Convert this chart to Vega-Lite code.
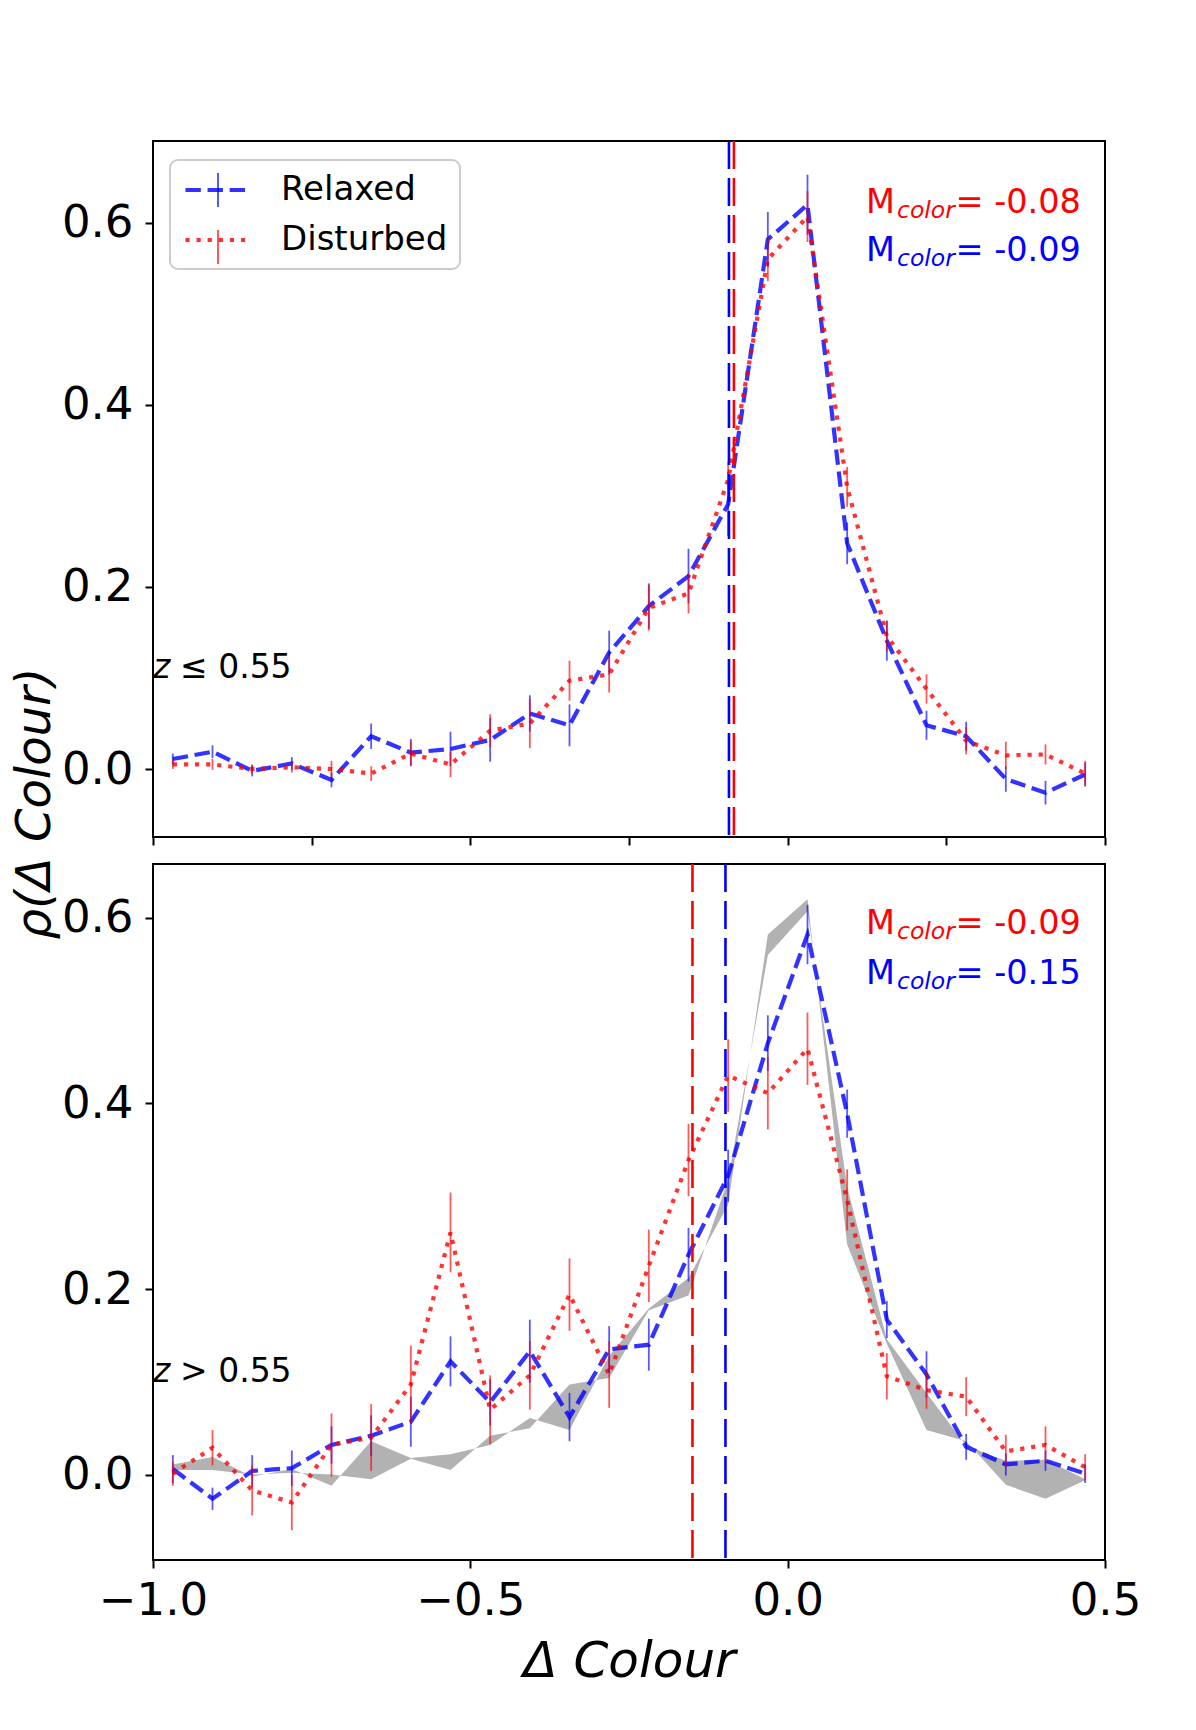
{
  "$schema": "https://vega.github.io/schema/vega-lite/v6.json",
  "autosize": {"type": "none"},
  "padding": {"left": 153, "top": 141, "right": 1043, "bottom": 1589},
  "background": "white",
  "bounds": "flush",
  "spacing": 27,
  "config": {
    "font": "DejaVu Sans",
    "view": {"stroke": "black", "strokeWidth": 2},
    "axis": {
      "grid": false, "domain": false, "tickColor": "black", "tickWidth": 2, "tickSize": 8,
      "labelFont": "DejaVu Sans", "labelFontSize": 45, "labelColor": "black",
      "labelFlush": false, "labelOverlap": false, "labelBound": false,
      "titleColor": "black", "titleFont": "DejaVu Sans", "titleFontSize": 50,
      "titleFontWeight": "normal", "titleFontStyle": "italic"
    }
  },
  "datasets": {
    "series": [
      {"panel":"low","g":"Relaxed","x":-0.96875,"y":0.011,"lo":0.005,"hi":0.017},
      {"panel":"low","g":"Relaxed","x":-0.90625,"y":0.019,"lo":0.012,"hi":0.026},
      {"panel":"low","g":"Relaxed","x":-0.84375,"y":-0.002,"lo":-0.008,"hi":0.004},
      {"panel":"low","g":"Relaxed","x":-0.78125,"y":0.006,"lo":-0.001,"hi":0.013},
      {"panel":"low","g":"Relaxed","x":-0.71875,"y":-0.012,"lo":-0.020,"hi":-0.004},
      {"panel":"low","g":"Relaxed","x":-0.65625,"y":0.036,"lo":0.022,"hi":0.050},
      {"panel":"low","g":"Relaxed","x":-0.59375,"y":0.018,"lo":0.003,"hi":0.033},
      {"panel":"low","g":"Relaxed","x":-0.53125,"y":0.022,"lo":0.003,"hi":0.041},
      {"panel":"low","g":"Relaxed","x":-0.46875,"y":0.032,"lo":0.008,"hi":0.056},
      {"panel":"low","g":"Relaxed","x":-0.40625,"y":0.061,"lo":0.041,"hi":0.081},
      {"panel":"low","g":"Relaxed","x":-0.34375,"y":0.048,"lo":0.025,"hi":0.071},
      {"panel":"low","g":"Relaxed","x":-0.28125,"y":0.128,"lo":0.104,"hi":0.152},
      {"panel":"low","g":"Relaxed","x":-0.21875,"y":0.179,"lo":0.154,"hi":0.204},
      {"panel":"low","g":"Relaxed","x":-0.15625,"y":0.212,"lo":0.182,"hi":0.242},
      {"panel":"low","g":"Relaxed","x":-0.09375,"y":0.291,"lo":0.256,"hi":0.326},
      {"panel":"low","g":"Relaxed","x":-0.03125,"y":0.582,"lo":0.552,"hi":0.612},
      {"panel":"low","g":"Relaxed","x":0.03125,"y":0.620,"lo":0.587,"hi":0.653},
      {"panel":"low","g":"Relaxed","x":0.09375,"y":0.248,"lo":0.225,"hi":0.271},
      {"panel":"low","g":"Relaxed","x":0.15625,"y":0.141,"lo":0.119,"hi":0.163},
      {"panel":"low","g":"Relaxed","x":0.21875,"y":0.048,"lo":0.032,"hi":0.064},
      {"panel":"low","g":"Relaxed","x":0.28125,"y":0.036,"lo":0.020,"hi":0.052},
      {"panel":"low","g":"Relaxed","x":0.34375,"y":-0.011,"lo":-0.025,"hi":0.003},
      {"panel":"low","g":"Relaxed","x":0.40625,"y":-0.026,"lo":-0.039,"hi":-0.013},
      {"panel":"low","g":"Relaxed","x":0.46875,"y":-0.006,"lo":-0.019,"hi":0.007},
      {"panel":"low","g":"Disturbed","x":-0.96875,"y":0.005,"lo":0.000,"hi":0.010},
      {"panel":"low","g":"Disturbed","x":-0.90625,"y":0.005,"lo":-0.001,"hi":0.011},
      {"panel":"low","g":"Disturbed","x":-0.84375,"y":0.000,"lo":-0.005,"hi":0.005},
      {"panel":"low","g":"Disturbed","x":-0.78125,"y":0.002,"lo":-0.004,"hi":0.008},
      {"panel":"low","g":"Disturbed","x":-0.71875,"y":0.000,"lo":-0.009,"hi":0.009},
      {"panel":"low","g":"Disturbed","x":-0.65625,"y":-0.005,"lo":-0.013,"hi":0.003},
      {"panel":"low","g":"Disturbed","x":-0.59375,"y":0.017,"lo":0.004,"hi":0.030},
      {"panel":"low","g":"Disturbed","x":-0.53125,"y":0.005,"lo":-0.009,"hi":0.019},
      {"panel":"low","g":"Disturbed","x":-0.46875,"y":0.042,"lo":0.024,"hi":0.060},
      {"panel":"low","g":"Disturbed","x":-0.40625,"y":0.050,"lo":0.023,"hi":0.077},
      {"panel":"low","g":"Disturbed","x":-0.34375,"y":0.097,"lo":0.075,"hi":0.119},
      {"panel":"low","g":"Disturbed","x":-0.28125,"y":0.104,"lo":0.084,"hi":0.124},
      {"panel":"low","g":"Disturbed","x":-0.21875,"y":0.177,"lo":0.152,"hi":0.202},
      {"panel":"low","g":"Disturbed","x":-0.15625,"y":0.193,"lo":0.171,"hi":0.215},
      {"panel":"low","g":"Disturbed","x":-0.09375,"y":0.318,"lo":0.298,"hi":0.338},
      {"panel":"low","g":"Disturbed","x":-0.03125,"y":0.560,"lo":0.536,"hi":0.584},
      {"panel":"low","g":"Disturbed","x":0.03125,"y":0.607,"lo":0.579,"hi":0.635},
      {"panel":"low","g":"Disturbed","x":0.09375,"y":0.310,"lo":0.288,"hi":0.332},
      {"panel":"low","g":"Disturbed","x":0.15625,"y":0.146,"lo":0.129,"hi":0.163},
      {"panel":"low","g":"Disturbed","x":0.21875,"y":0.088,"lo":0.072,"hi":0.104},
      {"panel":"low","g":"Disturbed","x":0.28125,"y":0.031,"lo":0.016,"hi":0.046},
      {"panel":"low","g":"Disturbed","x":0.34375,"y":0.015,"lo":0.000,"hi":0.030},
      {"panel":"low","g":"Disturbed","x":0.40625,"y":0.016,"lo":0.005,"hi":0.027},
      {"panel":"low","g":"Disturbed","x":0.46875,"y":-0.005,"lo":-0.019,"hi":0.009},
      {"panel":"high","g":"Relaxed","x":-0.96875,"y":0.006,"lo":-0.009,"hi":0.021},
      {"panel":"high","g":"Relaxed","x":-0.90625,"y":-0.026,"lo":-0.038,"hi":-0.014},
      {"panel":"high","g":"Relaxed","x":-0.84375,"y":0.004,"lo":-0.013,"hi":0.021},
      {"panel":"high","g":"Relaxed","x":-0.78125,"y":0.007,"lo":-0.012,"hi":0.026},
      {"panel":"high","g":"Relaxed","x":-0.71875,"y":0.032,"lo":0.012,"hi":0.052},
      {"panel":"high","g":"Relaxed","x":-0.65625,"y":0.042,"lo":0.020,"hi":0.064},
      {"panel":"high","g":"Relaxed","x":-0.59375,"y":0.057,"lo":0.030,"hi":0.084},
      {"panel":"high","g":"Relaxed","x":-0.53125,"y":0.122,"lo":0.095,"hi":0.149},
      {"panel":"high","g":"Relaxed","x":-0.46875,"y":0.078,"lo":0.053,"hi":0.103},
      {"panel":"high","g":"Relaxed","x":-0.40625,"y":0.133,"lo":0.099,"hi":0.167},
      {"panel":"high","g":"Relaxed","x":-0.34375,"y":0.062,"lo":0.036,"hi":0.088},
      {"panel":"high","g":"Relaxed","x":-0.28125,"y":0.135,"lo":0.110,"hi":0.160},
      {"panel":"high","g":"Relaxed","x":-0.21875,"y":0.140,"lo":0.112,"hi":0.168},
      {"panel":"high","g":"Relaxed","x":-0.15625,"y":0.237,"lo":0.208,"hi":0.266},
      {"panel":"high","g":"Relaxed","x":-0.09375,"y":0.322,"lo":0.294,"hi":0.350},
      {"panel":"high","g":"Relaxed","x":-0.03125,"y":0.465,"lo":0.435,"hi":0.495},
      {"panel":"high","g":"Relaxed","x":0.03125,"y":0.582,"lo":0.550,"hi":0.614},
      {"panel":"high","g":"Relaxed","x":0.09375,"y":0.389,"lo":0.363,"hi":0.415},
      {"panel":"high","g":"Relaxed","x":0.15625,"y":0.167,"lo":0.147,"hi":0.187},
      {"panel":"high","g":"Relaxed","x":0.21875,"y":0.108,"lo":0.083,"hi":0.133},
      {"panel":"high","g":"Relaxed","x":0.28125,"y":0.030,"lo":0.016,"hi":0.044},
      {"panel":"high","g":"Relaxed","x":0.34375,"y":0.011,"lo":-0.001,"hi":0.023},
      {"panel":"high","g":"Relaxed","x":0.40625,"y":0.015,"lo":0.004,"hi":0.026},
      {"panel":"high","g":"Relaxed","x":0.46875,"y":0.001,"lo":-0.009,"hi":0.011},
      {"panel":"high","g":"Disturbed","x":-0.96875,"y":0.001,"lo":-0.012,"hi":0.014},
      {"panel":"high","g":"Disturbed","x":-0.90625,"y":0.029,"lo":0.010,"hi":0.048},
      {"panel":"high","g":"Disturbed","x":-0.84375,"y":-0.017,"lo":-0.044,"hi":0.010},
      {"panel":"high","g":"Disturbed","x":-0.78125,"y":-0.030,"lo":-0.060,"hi":0.000},
      {"panel":"high","g":"Disturbed","x":-0.71875,"y":0.032,"lo":-0.002,"hi":0.066},
      {"panel":"high","g":"Disturbed","x":-0.65625,"y":0.040,"lo":0.004,"hi":0.076},
      {"panel":"high","g":"Disturbed","x":-0.59375,"y":0.097,"lo":0.055,"hi":0.139},
      {"panel":"high","g":"Disturbed","x":-0.53125,"y":0.261,"lo":0.218,"hi":0.304},
      {"panel":"high","g":"Disturbed","x":-0.46875,"y":0.070,"lo":0.033,"hi":0.107},
      {"panel":"high","g":"Disturbed","x":-0.40625,"y":0.107,"lo":0.070,"hi":0.144},
      {"panel":"high","g":"Disturbed","x":-0.34375,"y":0.194,"lo":0.155,"hi":0.233},
      {"panel":"high","g":"Disturbed","x":-0.28125,"y":0.108,"lo":0.072,"hi":0.144},
      {"panel":"high","g":"Disturbed","x":-0.21875,"y":0.225,"lo":0.186,"hi":0.264},
      {"panel":"high","g":"Disturbed","x":-0.15625,"y":0.339,"lo":0.300,"hi":0.378},
      {"panel":"high","g":"Disturbed","x":-0.09375,"y":0.430,"lo":0.391,"hi":0.469},
      {"panel":"high","g":"Disturbed","x":-0.03125,"y":0.411,"lo":0.372,"hi":0.450},
      {"panel":"high","g":"Disturbed","x":0.03125,"y":0.459,"lo":0.420,"hi":0.498},
      {"panel":"high","g":"Disturbed","x":0.09375,"y":0.296,"lo":0.263,"hi":0.329},
      {"panel":"high","g":"Disturbed","x":0.15625,"y":0.106,"lo":0.081,"hi":0.131},
      {"panel":"high","g":"Disturbed","x":0.21875,"y":0.091,"lo":0.071,"hi":0.111},
      {"panel":"high","g":"Disturbed","x":0.28125,"y":0.084,"lo":0.063,"hi":0.105},
      {"panel":"high","g":"Disturbed","x":0.34375,"y":0.025,"lo":0.007,"hi":0.043},
      {"panel":"high","g":"Disturbed","x":0.40625,"y":0.032,"lo":0.012,"hi":0.052},
      {"panel":"high","g":"Disturbed","x":0.46875,"y":0.008,"lo":-0.006,"hi":0.022}
    ],
    "band": [
      {"x":-0.96875,"a":0.011,"b":0.005},
      {"x":-0.90625,"a":0.019,"b":0.005},
      {"x":-0.84375,"a":-0.002,"b":0.000},
      {"x":-0.78125,"a":0.006,"b":0.002},
      {"x":-0.71875,"a":-0.012,"b":0.000},
      {"x":-0.65625,"a":0.036,"b":-0.005},
      {"x":-0.59375,"a":0.018,"b":0.017},
      {"x":-0.53125,"a":0.022,"b":0.005},
      {"x":-0.46875,"a":0.032,"b":0.042},
      {"x":-0.40625,"a":0.061,"b":0.050},
      {"x":-0.34375,"a":0.048,"b":0.097},
      {"x":-0.28125,"a":0.128,"b":0.104},
      {"x":-0.21875,"a":0.179,"b":0.177},
      {"x":-0.15625,"a":0.212,"b":0.193},
      {"x":-0.09375,"a":0.291,"b":0.318},
      {"x":-0.03125,"a":0.582,"b":0.560},
      {"x":0.03125,"a":0.620,"b":0.607},
      {"x":0.09375,"a":0.248,"b":0.310},
      {"x":0.15625,"a":0.141,"b":0.146},
      {"x":0.21875,"a":0.048,"b":0.088},
      {"x":0.28125,"a":0.036,"b":0.031},
      {"x":0.34375,"a":-0.011,"b":0.015},
      {"x":0.40625,"a":-0.026,"b":0.016},
      {"x":0.46875,"a":-0.006,"b":-0.005}
    ],
    "stats": [
      {"panel":"low","g":"Relaxed","median":-0.0925,"label":"= -0.09"},
      {"panel":"low","g":"Disturbed","median":-0.0847,"label":"= -0.08"},
      {"panel":"high","g":"Relaxed","median":-0.098,"label":"= -0.15"},
      {"panel":"high","g":"Disturbed","median":-0.150,"label":"= -0.09"}
    ],
    "notes": [
      {"panel":"low","cond":"≤ 0.55"},
      {"panel":"high","cond":"> 0.55"}
    ]
  },
  "vconcat": [
    {
      "width": 952,
      "height": 696,
      "layer": [
        {
          "data": {"name": "series"},
          "transform": [{"filter": "datum.panel === 'low'"}],
          "mark": {"type": "line", "strokeWidth": 4.2, "opacity": 0.8, "strokeCap": "butt"},
          "encoding": {
            "x": {"field": "x", "type": "quantitative", "scale": {"domain": [-1, 0.5], "nice": false, "zero": false},
                  "axis": {"values": [-1, -0.75, -0.5, -0.25, 0, 0.25, 0.5], "labels": false, "title": null}},
            "y": {"field": "y", "type": "quantitative", "scale": {"domain": [-0.0747, 0.690], "nice": false, "zero": false},
                  "axis": {"values": [0, 0.2, 0.4, 0.6], "format": ".1f", "labelPadding": 12,
                           "title": "ρ(Δ  Colour)", "titleX": -104, "titleY": 662, "titleAngle": 270,
                           "titleFontSize": 48, "titleAlign": "center", "titleBaseline": "alphabetic"}},
            "color": {"field": "g", "type": "nominal", "scale": {"domain": ["Relaxed", "Disturbed"], "range": ["#0000ff", "#ff0000"]},
                      "legend": {"orient": "none", "legendX": 17, "legendY": 19, "title": null, "padding": 12, "rowPadding": 15,
                                 "symbolType": "M-2.1,0L1.9,0", "symbolSize": 961, "symbolStrokeWidth": 4.2, "symbolOffset": 18,
                                 "labelOffset": 45, "labelLimit": 400, "labelFont": "DejaVu Sans", "labelFontSize": 34, "labelColor": "black",
                                 "strokeColor": "#cccccc", "cornerRadius": 8, "symbolOpacity": 0.8,
                                 "encode": {"legend": {"update": {"strokeWidth": {"value": 2}}}}}},
            "strokeDash": {"field": "g", "type": "nominal", "scale": {"domain": ["Relaxed", "Disturbed"], "range": [[15.4, 6.7], [4.2, 6.9]]},
                      "legend": {"orient": "none", "legendX": 17, "legendY": 19, "title": null, "padding": 12, "rowPadding": 15,
                                 "symbolType": "M-2.1,0L1.9,0", "symbolSize": 961, "symbolStrokeWidth": 4.2, "symbolOffset": 18,
                                 "labelOffset": 45, "labelLimit": 400, "labelFont": "DejaVu Sans", "labelFontSize": 34, "labelColor": "black",
                                 "strokeColor": "#cccccc", "cornerRadius": 8, "symbolOpacity": 0.8}}
          }
        },
        {
          "data": {"name": "series"},
          "transform": [{"filter": "datum.panel === 'low'"}],
          "mark": {"type": "rule", "strokeWidth": 1.8, "opacity": 0.65},
          "encoding": {
            "x": {"field": "x", "type": "quantitative"},
            "y": {"field": "lo", "type": "quantitative"},
            "y2": {"field": "hi"},
            "stroke": {"field": "g", "type": "nominal", "sort": ["Relaxed", "Disturbed"], "scale": {"range": ["#0000ff", "#ff0000"]},
                       "legend": {"orient": "none", "legendX": 17, "legendY": 19, "title": null, "padding": 12, "rowPadding": 15,
                                  "symbolType": "M0,-1L0,1", "symbolSize": 1156, "symbolStrokeWidth": 2, "symbolOffset": 18,
                                  "symbolDash": [100, 0], "labelOffset": 45, "labelFontSize": 34, "labelExpr": "''", "symbolOpacity": 0.65}}
          }
        },
        {
          "data": {"name": "stats"},
          "transform": [{"filter": "datum.panel === 'low'"}],
          "mark": {"type": "rule", "strokeWidth": 2.6, "strokeDash": [28, 9]},
          "encoding": {
            "x": {"field": "median", "type": "quantitative"},
            "stroke": {"field": "g", "type": "nominal", "sort": ["Relaxed", "Disturbed"]}
          }
        },
        {
          "data": {"name": "notes"},
          "transform": [{"filter": "datum.panel === 'low'"}],
          "mark": {"type": "text", "align": "left", "baseline": "alphabetic", "fontSize": 33, "fontStyle": "italic", "color": "black"},
          "encoding": {"x": {"datum": -1.0, "type": "quantitative"}, "y": {"datum": 0.1, "type": "quantitative"}, "text": {"value": "z"}}
        },
        {
          "data": {"name": "notes"},
          "transform": [{"filter": "datum.panel === 'low'"}],
          "mark": {"type": "text", "align": "left", "baseline": "alphabetic", "fontSize": 33, "dx": 27, "color": "black"},
          "encoding": {"x": {"datum": -1.0, "type": "quantitative"}, "y": {"datum": 0.1, "type": "quantitative"}, "text": {"field": "cond"}}
        },
        {
          "data": {"name": "stats"},
          "transform": [{"filter": "datum.panel === 'low' && datum.g === 'Disturbed'"}],
          "mark": {"type": "text", "align": "right", "baseline": "alphabetic", "fontSize": 33.5, "color": "#ff0000"},
          "encoding": {"x": {"datum": 0.462, "type": "quantitative"}, "y": {"datum": 0.611, "type": "quantitative"}, "text": {"field": "label"}}
        },
        {
          "data": {"name": "stats"},
          "transform": [{"filter": "datum.panel === 'low' && datum.g === 'Disturbed'"}],
          "mark": {"type": "text", "align": "right", "baseline": "alphabetic", "fontSize": 23.5, "fontStyle": "italic", "dx": -126, "dy": 5, "color": "#ff0000"},
          "encoding": {"x": {"datum": 0.462, "type": "quantitative"}, "y": {"datum": 0.611, "type": "quantitative"}, "text": {"value": "color"}}
        },
        {
          "data": {"name": "stats"},
          "transform": [{"filter": "datum.panel === 'low' && datum.g === 'Disturbed'"}],
          "mark": {"type": "text", "align": "right", "baseline": "alphabetic", "fontSize": 33.5, "dx": -186, "color": "#ff0000"},
          "encoding": {"x": {"datum": 0.462, "type": "quantitative"}, "y": {"datum": 0.611, "type": "quantitative"}, "text": {"value": "M"}}
        },
        {
          "data": {"name": "stats"},
          "transform": [{"filter": "datum.panel === 'low' && datum.g === 'Relaxed'"}],
          "mark": {"type": "text", "align": "right", "baseline": "alphabetic", "fontSize": 33.5, "color": "#0000ff"},
          "encoding": {"x": {"datum": 0.462, "type": "quantitative"}, "y": {"datum": 0.558, "type": "quantitative"}, "text": {"field": "label"}}
        },
        {
          "data": {"name": "stats"},
          "transform": [{"filter": "datum.panel === 'low' && datum.g === 'Relaxed'"}],
          "mark": {"type": "text", "align": "right", "baseline": "alphabetic", "fontSize": 23.5, "fontStyle": "italic", "dx": -126, "dy": 5, "color": "#0000ff"},
          "encoding": {"x": {"datum": 0.462, "type": "quantitative"}, "y": {"datum": 0.558, "type": "quantitative"}, "text": {"value": "color"}}
        },
        {
          "data": {"name": "stats"},
          "transform": [{"filter": "datum.panel === 'low' && datum.g === 'Relaxed'"}],
          "mark": {"type": "text", "align": "right", "baseline": "alphabetic", "fontSize": 33.5, "dx": -186, "color": "#0000ff"},
          "encoding": {"x": {"datum": 0.462, "type": "quantitative"}, "y": {"datum": 0.558, "type": "quantitative"}, "text": {"value": "M"}}
        }
      ]
    },
    {
      "width": 952,
      "height": 696,
      "layer": [
        {
          "data": {"name": "band"},
          "mark": {"type": "area", "color": "#b2b2b2", "opacity": 1},
          "encoding": {
            "x": {"field": "x", "type": "quantitative", "scale": {"domain": [-1, 0.5], "nice": false, "zero": false},
                  "axis": {"values": [-1, -0.5, 0, 0.5], "format": ".1f", "labelBaseline": "alphabetic", "labelPadding": 46,
                           "title": "Δ  Colour", "titleY": 116, "titleBaseline": "alphabetic"}},
            "y": {"field": "a", "type": "quantitative", "scale": {"domain": [-0.092, 0.658], "nice": false, "zero": false},
                  "axis": {"values": [0, 0.2, 0.4, 0.6], "format": ".1f", "labelPadding": 12, "title": null}},
            "y2": {"field": "b"}
          }
        },
        {
          "data": {"name": "series"},
          "transform": [{"filter": "datum.panel === 'high'"}],
          "mark": {"type": "line", "strokeWidth": 4.2, "opacity": 0.8, "strokeCap": "butt"},
          "encoding": {
            "x": {"field": "x", "type": "quantitative"},
            "y": {"field": "y", "type": "quantitative"},
            "color": {"field": "g", "type": "nominal", "scale": {"domain": ["Relaxed", "Disturbed"], "range": ["#0000ff", "#ff0000"]}},
            "strokeDash": {"field": "g", "type": "nominal", "scale": {"domain": ["Relaxed", "Disturbed"], "range": [[15.4, 6.7], [4.2, 6.9]]}}
          }
        },
        {
          "data": {"name": "series"},
          "transform": [{"filter": "datum.panel === 'high'"}],
          "mark": {"type": "rule", "strokeWidth": 1.8, "opacity": 0.65},
          "encoding": {
            "x": {"field": "x", "type": "quantitative"},
            "y": {"field": "lo", "type": "quantitative"},
            "y2": {"field": "hi"},
            "stroke": {"field": "g", "type": "nominal", "sort": ["Relaxed", "Disturbed"]}
          }
        },
        {
          "data": {"name": "stats"},
          "transform": [{"filter": "datum.panel === 'high'"}],
          "mark": {"type": "rule", "strokeWidth": 2.6, "strokeDash": [28, 9]},
          "encoding": {
            "x": {"field": "median", "type": "quantitative"},
            "stroke": {"field": "g", "type": "nominal", "sort": ["Relaxed", "Disturbed"]}
          }
        },
        {
          "data": {"name": "notes"},
          "transform": [{"filter": "datum.panel === 'high'"}],
          "mark": {"type": "text", "align": "left", "baseline": "alphabetic", "fontSize": 33, "fontStyle": "italic", "color": "black"},
          "encoding": {"x": {"datum": -1.0, "type": "quantitative"}, "y": {"datum": 0.1, "type": "quantitative"}, "text": {"value": "z"}}
        },
        {
          "data": {"name": "notes"},
          "transform": [{"filter": "datum.panel === 'high'"}],
          "mark": {"type": "text", "align": "left", "baseline": "alphabetic", "fontSize": 33, "dx": 27, "color": "black"},
          "encoding": {"x": {"datum": -1.0, "type": "quantitative"}, "y": {"datum": 0.1, "type": "quantitative"}, "text": {"field": "cond"}}
        },
        {
          "data": {"name": "stats"},
          "transform": [{"filter": "datum.panel === 'high' && datum.g === 'Disturbed'"}],
          "mark": {"type": "text", "align": "right", "baseline": "alphabetic", "fontSize": 33.5, "color": "#ff0000"},
          "encoding": {"x": {"datum": 0.462, "type": "quantitative"}, "y": {"datum": 0.583, "type": "quantitative"}, "text": {"field": "label"}}
        },
        {
          "data": {"name": "stats"},
          "transform": [{"filter": "datum.panel === 'high' && datum.g === 'Disturbed'"}],
          "mark": {"type": "text", "align": "right", "baseline": "alphabetic", "fontSize": 23.5, "fontStyle": "italic", "dx": -126, "dy": 5, "color": "#ff0000"},
          "encoding": {"x": {"datum": 0.462, "type": "quantitative"}, "y": {"datum": 0.583, "type": "quantitative"}, "text": {"value": "color"}}
        },
        {
          "data": {"name": "stats"},
          "transform": [{"filter": "datum.panel === 'high' && datum.g === 'Disturbed'"}],
          "mark": {"type": "text", "align": "right", "baseline": "alphabetic", "fontSize": 33.5, "dx": -186, "color": "#ff0000"},
          "encoding": {"x": {"datum": 0.462, "type": "quantitative"}, "y": {"datum": 0.583, "type": "quantitative"}, "text": {"value": "M"}}
        },
        {
          "data": {"name": "stats"},
          "transform": [{"filter": "datum.panel === 'high' && datum.g === 'Relaxed'"}],
          "mark": {"type": "text", "align": "right", "baseline": "alphabetic", "fontSize": 33.5, "color": "#0000ff"},
          "encoding": {"x": {"datum": 0.462, "type": "quantitative"}, "y": {"datum": 0.529, "type": "quantitative"}, "text": {"field": "label"}}
        },
        {
          "data": {"name": "stats"},
          "transform": [{"filter": "datum.panel === 'high' && datum.g === 'Relaxed'"}],
          "mark": {"type": "text", "align": "right", "baseline": "alphabetic", "fontSize": 23.5, "fontStyle": "italic", "dx": -126, "dy": 5, "color": "#0000ff"},
          "encoding": {"x": {"datum": 0.462, "type": "quantitative"}, "y": {"datum": 0.529, "type": "quantitative"}, "text": {"value": "color"}}
        },
        {
          "data": {"name": "stats"},
          "transform": [{"filter": "datum.panel === 'high' && datum.g === 'Relaxed'"}],
          "mark": {"type": "text", "align": "right", "baseline": "alphabetic", "fontSize": 33.5, "dx": -186, "color": "#0000ff"},
          "encoding": {"x": {"datum": 0.462, "type": "quantitative"}, "y": {"datum": 0.529, "type": "quantitative"}, "text": {"value": "M"}}
        }
      ]
    }
  ]
}
